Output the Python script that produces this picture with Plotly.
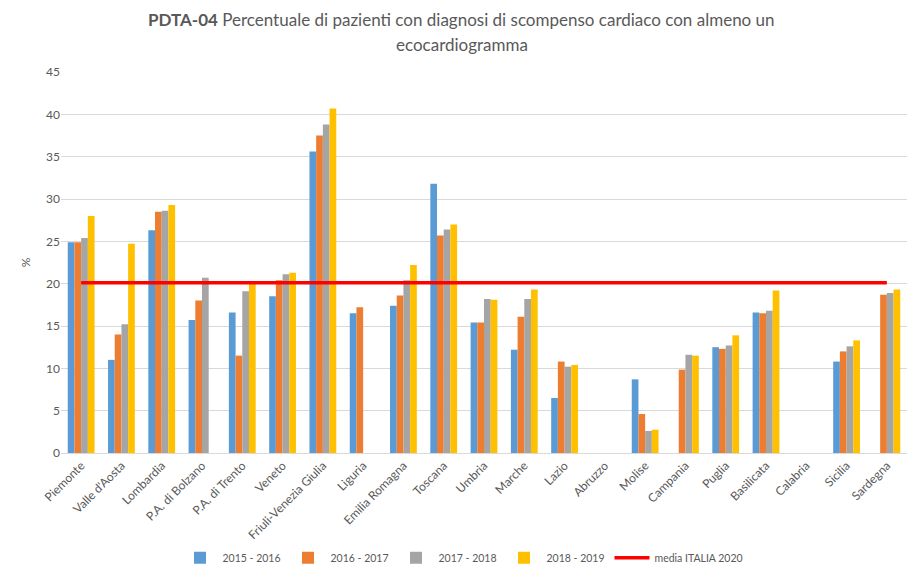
import plotly.graph_objects as go

regions = ["Piemonte", "Valle d'Aosta", "Lombardia", "P.A. di Bolzano", "P.A. di Trento",
           "Veneto", "Friuli-Venezia Giulia", "Liguria", "Emilia Romagna", "Toscana",
           "Umbria", "Marche", "Lazio", "Abruzzo", "Molise", "Campania", "Puglia",
           "Basilicata", "Calabria", "Sicilia", "Sardegna"]

s_2015_2016 = [24.9, 11.0, 26.3, 15.7, 16.6, 18.5, 35.6, 16.5, 17.4, 31.8,
               15.4, 12.2, 6.5, None, 8.7, None, 12.5, 16.6, None, 10.8, None]
s_2016_2017 = [24.9, 14.0, 28.5, 18.0, 11.5, 20.4, 37.5, 17.2, 18.6, 25.7,
               15.4, 16.1, 10.8, None, 4.6, 9.85, 12.3, 16.5, None, 12.0, 18.7]
s_2017_2018 = [25.4, 15.2, 28.6, 20.7, 19.1, 21.1, 38.8, None, 20.4, 26.4,
               18.2, 18.2, 10.2, None, 2.6, 11.6, 12.7, 16.8, None, 12.6, 18.9]
s_2018_2019 = [28.0, 24.7, 29.3, None, 20.0, 21.3, 40.7, None, 22.2, 27.0,
               18.1, 19.3, 10.4, None, 2.75, 11.5, 13.9, 19.2, None, 13.3, 19.3]
media_italia_2020 = [20.1] * len(regions)

series_names = ["2015 - 2016", "2016 - 2017", "2017 - 2018", "2018 - 2019"]
series_values = [s_2015_2016, s_2016_2017, s_2017_2018, s_2018_2019]
colors = ["#5B9BD5", "#ED7D31", "#A5A5A5", "#FFC000"]

title_line1 = "<b>PDTA-04</b> Percentuale di pazienti con diagnosi di scompenso cardiaco con almeno un"
title_line2 = "ecocardiogramma"

font_family = "Lato, 'Open Sans', sans-serif"
grey_txt = "#595959"

fig = go.Figure()
for name, vals, c in zip(series_names, series_values, colors):
    fig.add_trace(go.Bar(x=regions, y=vals, name=name, marker=dict(color=c, line=dict(width=0))))

fig.add_trace(go.Scatter(x=regions, y=media_italia_2020, name="media ITALIA 2020",
                         mode="lines", line=dict(color="#FF0000", width=3.5)))

# plot area: left 61px, width 846px; top 72px, bottom 453px (height 381)
title_x = (461.5 - 61) / 846
for txt, ypx in [(title_line1, 20), (title_line2, 44)]:
    fig.add_annotation(text=txt, xref="paper", yref="paper", x=title_x, xanchor="center",
                       y=(453 - ypx) / 381, yanchor="middle", showarrow=False,
                       font=dict(family=font_family, size=17, color=grey_txt))

fig.update_layout(
    width=923, height=580,
    margin=dict(l=61, r=16, t=72, b=127, autoexpand=False),
    paper_bgcolor="white", plot_bgcolor="white",
    barmode="group", bargap=0.335, bargroupgap=0,
    font=dict(family=font_family, color=grey_txt, size=11),
    legend=dict(orientation="h", x=(463 - 61) / 846, xanchor="center", y=-0.237, yanchor="top",
                font=dict(size=10.5, color=grey_txt), itemwidth=35, traceorder="normal"),
    showlegend=True,
)
fig.update_xaxes(type="category", tickangle=-45, showgrid=False, showline=True, automargin=False,
                 linecolor="#D9D9D9", linewidth=1, ticks="", tickfont=dict(size=12, color=grey_txt))
fig.update_yaxes(range=[0, 45], dtick=5, showgrid=True, gridcolor="#D9D9D9", gridwidth=1,
                 zeroline=False, showline=False, ticks="", automargin=False,
                 tickfont=dict(size=12, color=grey_txt),
                 title=dict(text="%", font=dict(size=12, color=grey_txt), standoff=12))

fig.write_html("out.html", config={"displayModeBar": False},
               post_script="document.body.style.margin='0';document.body.style.padding='0';")
